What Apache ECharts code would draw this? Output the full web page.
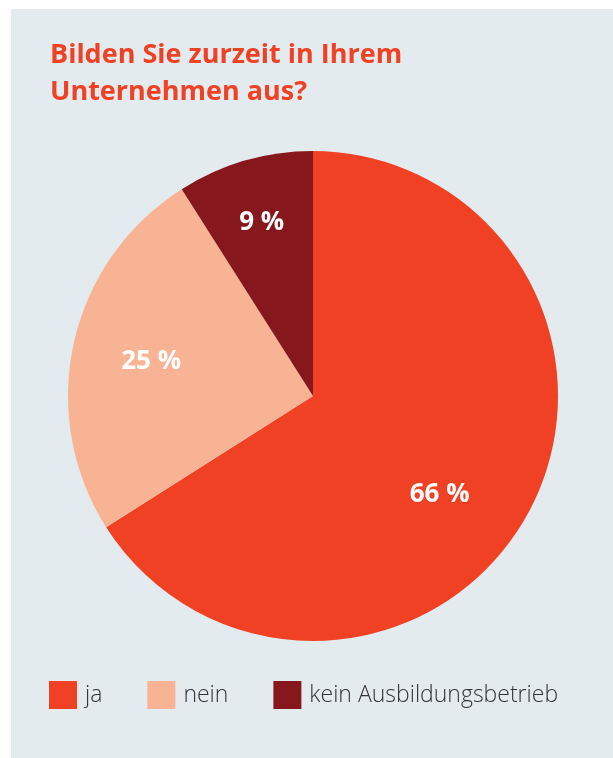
<!DOCTYPE html>
<html>
<head>
<meta charset="utf-8">
<script src="https://cdn.jsdelivr.net/npm/echarts@6/dist/echarts.min.js"></script>
<style>
  html, body { margin: 0; padding: 0; background: #ffffff; }
  #chart { position: absolute; left: 11px; top: 9px; width: 602px; height: 749px; background: #e4ebef; }
</style>
</head>
<body>
<div id="chart"></div>
<script>
var titleText = 'Bilden Sie zurzeit in Ihrem\nUnternehmen aus?';
var categories = ['ja', 'nein', 'kein Ausbildungsbetrieb'];
var shares = [66, 25, 9];
var colors = ['#f04124', '#f8b394', '#86171c'];
// small hand nudges for the percentage labels (px)
var labelNudge = [[-25, 15], [7, 3], [-3, -7]];

var chart = echarts.init(document.getElementById('chart'));

var pieData = categories.map(function (name, i) {
    return { name: name, value: shares[i], itemStyle: { color: colors[i] } };
});

var option = {
    animation: false,
    title: {
        text: titleText,
        left: 34,
        top: 23,
        textStyle: {
            fontFamily: 'Open Sans',
            fontWeight: 'bold',
            fontSize: 27,
            lineHeight: 37,
            color: '#ef4123'
        }
    },
    legend: {
        data: categories,
        left: 33,
        top: 667,
        itemWidth: 28,
        itemHeight: 28,
        itemGap: 45,
        icon: 'rect',
        textStyle: {
            fontFamily: 'Open Sans',
            fontWeight: 300,
            fontSize: 23,
            color: '#333333',
            padding: [0, 0, 0, 3]
        }
    },
    series: [
        {
            // filled slices
            type: 'pie',
            center: [302, 387],
            radius: [0, 245],
            startAngle: 90,
            clockwise: true,
            label: { show: false },
            labelLine: { show: false },
            emphasis: { disabled: true },
            data: pieData
        },
        {
            // invisible ring that only carries the percentage labels
            type: 'pie',
            center: [302, 387],
            radius: [95, 245],
            startAngle: 90,
            clockwise: true,
            silent: true,
            legendHoverLink: false,
            itemStyle: { color: 'rgba(0,0,0,0)' },
            label: {
                show: true,
                position: 'inside',
                formatter: '{c} %',
                fontFamily: 'Open Sans',
                fontWeight: 'bold',
                fontSize: 26,
                color: '#ffffff'
            },
            labelLayout: function (params) {
                var n = labelNudge[params.dataIndex];
                return { dx: n[0], dy: n[1] };
            },
            labelLine: { show: false },
            data: categories.map(function (name, i) {
                return { name: name + ' ', value: shares[i] };
            })
        }
    ]
};

chart.setOption(option);
</script>
</body>
</html>
